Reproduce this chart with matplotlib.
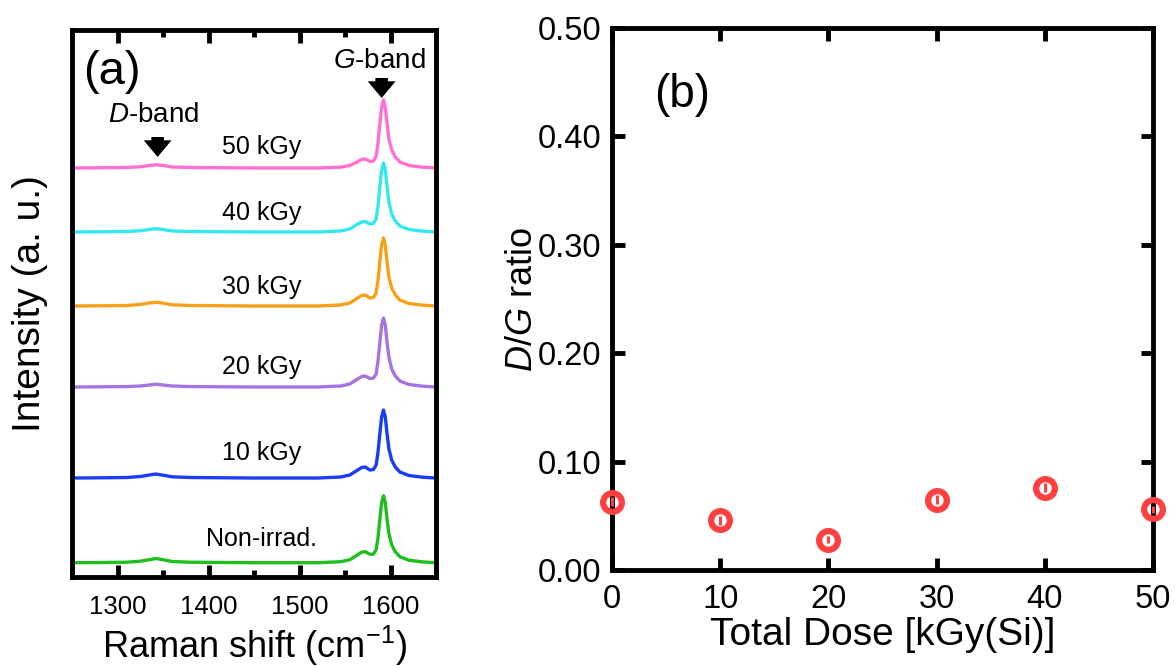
import numpy as np
import matplotlib
matplotlib.use("Agg")
import matplotlib.pyplot as plt
from matplotlib.ticker import MultipleLocator

plt.rcParams.update(
    {
        "font.family": ["Liberation Sans", "DejaVu Sans"],
        "mathtext.fontset": "custom",
        "mathtext.rm": "Liberation Sans",
        "mathtext.it": "Liberation Sans:italic",
        "mathtext.bf": "Liberation Sans:bold",
    }
)

# ---- (a) Raman spectra ----
shift = [1250, 1280, 1310, 1325, 1335, 1342, 1350, 1360, 1380, 1450, 1520,
         1545, 1555, 1562, 1568, 1572, 1577, 1581, 1584, 1586, 1588, 1590,
         1592, 1594, 1596, 1598, 1601, 1605, 1610, 1620, 1635, 1650]

spec_0 = [0.0, 0.02, 0.05, 0.15, 0.3, 0.42, 0.3, 0.12, 0.05, 0.0, 0.0,
          0.1, 0.3, 0.7, 1.05, 1.1, 0.85, 0.85, 1.3, 2.5, 4.3, 6.0,
          6.7, 6.0, 4.3, 2.9, 1.8, 1.1, 0.6, 0.25, 0.08, 0.0]
spec_10 = [0.0, 0.02, 0.05, 0.15, 0.3, 0.40, 0.28, 0.12, 0.05, 0.0, 0.0,
           0.1, 0.3, 0.7, 1.05, 1.1, 0.8, 0.85, 1.3, 2.6, 4.4, 6.1,
           6.8, 6.1, 4.4, 2.9, 1.8, 1.1, 0.6, 0.25, 0.08, 0.0]
spec_20 = [0.0, 0.02, 0.04, 0.1, 0.2, 0.28, 0.2, 0.1, 0.04, 0.0, 0.0,
           0.1, 0.3, 0.7, 1.05, 1.1, 0.85, 0.9, 1.3, 2.6, 4.4, 6.2,
           6.9, 6.2, 4.4, 3.0, 1.8, 1.1, 0.6, 0.25, 0.08, 0.0]
spec_30 = [0.0, 0.02, 0.05, 0.15, 0.3, 0.38, 0.28, 0.12, 0.05, 0.0, 0.0,
           0.1, 0.3, 0.7, 1.05, 1.1, 0.8, 0.85, 1.3, 2.6, 4.4, 6.1,
           6.8, 6.1, 4.4, 2.9, 1.8, 1.1, 0.6, 0.25, 0.08, 0.0]
spec_40 = [0.0, 0.02, 0.05, 0.12, 0.25, 0.33, 0.25, 0.1, 0.05, 0.0, 0.0,
           0.1, 0.3, 0.7, 1.0, 1.05, 0.8, 0.85, 1.3, 2.6, 4.5, 6.2,
           6.9, 6.2, 4.5, 3.0, 1.8, 1.1, 0.6, 0.25, 0.08, 0.0]
spec_50 = [0.0, 0.02, 0.05, 0.12, 0.25, 0.32, 0.25, 0.1, 0.05, 0.0, 0.0,
           0.08, 0.25, 0.55, 0.85, 0.9, 0.65, 0.7, 1.2, 2.5, 4.4, 6.1,
           6.8, 6.1, 4.4, 2.9, 1.8, 1.1, 0.6, 0.25, 0.08, 0.0]

spectra = [spec_0, spec_10, spec_20, spec_30, spec_40, spec_50]
spec_labels = ["Non-irrad.", "10 kGy", "20 kGy", "30 kGy", "40 kGy", "50 kGy"]
spec_colors = ["#1fbf1f", "#1a3cf7", "#a574e0", "#f7a11a", "#35e8ee", "#ff70d2"]
offsets = [1.43, 9.9, 19.0, 27.1, 34.5, 40.9]
label_y = [3.8, 12.4, 21.0, 29.0, 36.4, 43.0]

# ---- (b) D/G ratio ----
dose = [0, 10, 20, 30, 40, 50]
dg_ratio = [0.063, 0.046, 0.028, 0.065, 0.076, 0.056]
dg_err = [0.004, 0.004, 0.003, 0.004, 0.004, 0.003]

fig = plt.figure(figsize=(11.75, 6.66), dpi=100)
ax1 = fig.add_axes([0.0613, 0.1336, 0.310, 0.8214])
ax2 = fig.add_axes([0.5209, 0.1441, 0.4604, 0.8138])

for ax in (ax1, ax2):
    for sp in ax.spines.values():
        sp.set_linewidth(3.5)
    ax.tick_params(which="both", direction="in", top=True, right=True, width=3.5)
    ax.tick_params(which="major", length=9)
    ax.tick_params(which="minor", length=5)

# panel (a)
for spec, off, col, lab, ly in zip(spectra, offsets, spec_colors, spec_labels, label_y):
    ax1.plot(shift, np.array(spec) + off, color=col, lw=2.4, solid_joinstyle="round")
    ax1.text(1458, ly, lab, fontsize=18, ha="center", va="center")

ax1.set_xlim(1250, 1650)
ax1.set_ylim(0, 54.7)
ax1.xaxis.set_major_locator(MultipleLocator(100))
ax1.xaxis.set_minor_locator(MultipleLocator(50))
ax1.set_yticks([])
ax1.tick_params(axis="y", which="both", left=False, right=False)
ax1.tick_params(axis="x", labelsize=18.5, pad=13)
ax1.set_xlabel("Raman shift (cm$^{-1}$)", fontsize=26, va="center")
ax1.xaxis.set_label_coords(0.5, -0.126)
ax1.set_ylabel("Intensity (a. u.)", fontsize=28, va="center")
ax1.yaxis.set_label_coords(-0.115, 0.5)

ax1.text(1294, 50.5, "(a)", fontsize=34, ha="center", va="center")
ax1.text(1587, 51.6, "$G$-band", fontsize=20, ha="center", va="center")
ax1.text(1340, 46.2, "$D$-band", fontsize=20, ha="center", va="center")
arrow = dict(arrowstyle="simple,head_width=1.0,head_length=0.6,tail_width=0.45",
             mutation_scale=20, color="black", lw=0, shrinkA=0, shrinkB=0)
ax1.annotate("", xy=(1590, 47.9), xytext=(1590, 49.9), arrowprops=arrow)
ax1.annotate("", xy=(1344, 42.0), xytext=(1344, 44.0), arrowprops=arrow)

# panel (b)
ax2.errorbar(dose, dg_ratio, yerr=dg_err, fmt="o", color="#ff4040", ms=13.5,
             mfc="none", mew=4.5, elinewidth=2.2, capsize=0, clip_on=False, zorder=5)
ax2.set_xlim(0, 50)
ax2.set_ylim(0, 0.5)
ax2.xaxis.set_major_locator(MultipleLocator(10))
ax2.yaxis.set_major_locator(MultipleLocator(0.1))
ax2.yaxis.set_major_formatter(plt.FormatStrFormatter("%.2f"))
ax2.tick_params(axis="y", labelsize=23.5, pad=8)
ax2.tick_params(axis="x", labelsize=23.5, pad=10)
ax2.set_xlabel("Total Dose [kGy(Si)]", fontsize=28, va="center")
ax2.xaxis.set_label_coords(0.5, -0.12)
ax2.set_ylabel("$D$/$G$ ratio", fontsize=26, va="center")
ax2.yaxis.set_label_coords(-0.165, 0.5)
ax2.text(6.5, 0.438, "(b)", fontsize=33, ha="center", va="center")

fig.savefig("out.png", dpi=100)
